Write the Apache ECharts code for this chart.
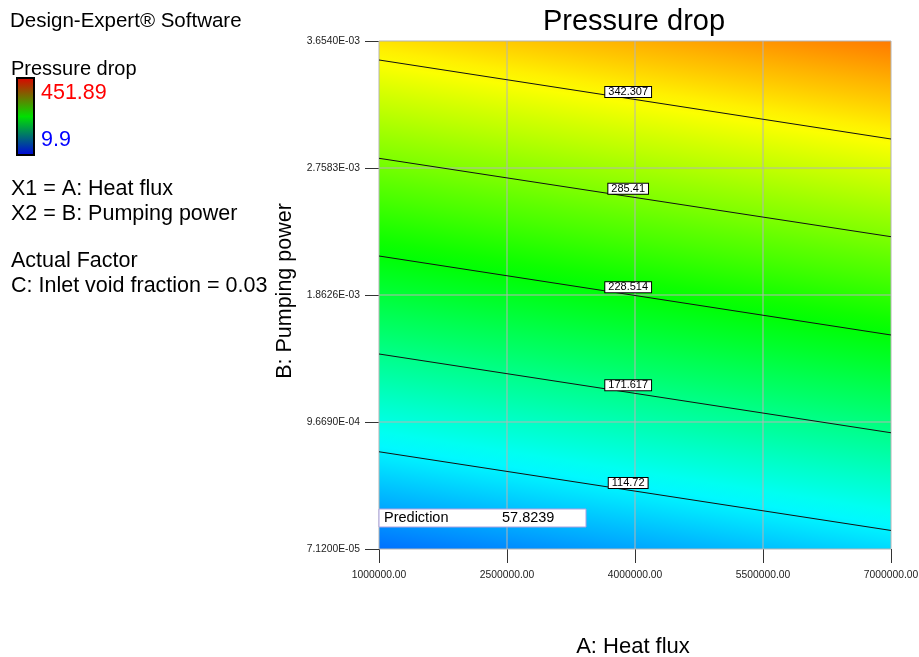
<!DOCTYPE html>
<html><head><meta charset="utf-8">
<script src="https://cdn.jsdelivr.net/npm/echarts@6/dist/echarts.min.js"></script>
<style>html,body{margin:0;padding:0;background:#fff}#c{width:919px;height:657px}</style>
</head><body><div id="c"></div>
<script>
// ---- data ----
const xTicks = [1000000, 2500000, 4000000, 5500000, 7000000];
const xTickLabels = ['1000000.00', '2500000.00', '4000000.00', '5500000.00', '7000000.00'];
const yTicks = [0.0000712, 0.0009669, 0.0018626, 0.0027583, 0.003654];
const yTickLabels = ['7.1200E-05', '9.6690E-04', '1.8626E-03', '2.7583E-03', '3.6540E-03'];
const contourLevels = [114.72, 171.617, 228.514, 285.41, 342.307];
const contourLabels = ['114.72', '171.617', '228.514', '285.41', '342.307'];
const contourLeftY = [0.000757, 0.0014465, 0.0021376, 0.0028267, 0.00352];   // at x = 1000000
const contourRightY = [0.000202, 0.000891, 0.0015805, 0.0022738, 0.0029628]; // at x = 7000000
const contourLabelX = [3920000, 3920000, 3920000, 3920000, 3920000];
const contourLabelY = [0.000537, 0.0012257, 0.0019169, 0.0026123, 0.0032943];
const legendMax = 451.89;
const legendMin = 9.9;
const predictionAt = [1000000, 0.0000712];
const predictionValue = '57.8239';

const FONT = 'Liberation Sans, Arial, sans-serif';
const xMin = xTicks[0], xMax = xTicks[xTicks.length - 1];
const yMin = yTicks[0], yMax = yTicks[yTicks.length - 1];

const scaleColors = [[0,0,255],[0,255,255],[0,255,0],[255,255,0],[255,0,0]];
function colorAt(v) {
  let t = (v - legendMin) / (legendMax - legendMin);
  t = Math.max(0, Math.min(1, t));
  const seg = t * (scaleColors.length - 1);
  const i = Math.min(Math.floor(seg), scaleColors.length - 2);
  const f = seg - i;
  const a = scaleColors[i], b = scaleColors[i + 1];
  const c = a.map((av, k) => Math.round(av + (b[k] - av) * f));
  return 'rgb(' + c.join(',') + ')';
}
function nearestLabel(v, ticks, labels) {
  let best = 0, bd = Infinity;
  ticks.forEach((t, i) => { const d = Math.abs(t - v); if (d < bd) { bd = d; best = i; } });
  return labels[best];
}

const chart = echarts.init(document.getElementById('c'), null, { renderer: 'canvas' });

const series = [];
// continuous colour surface, oriented along the contour lines
series.push({
  type: 'custom', z: 1, silent: true,
  data: [[xMin, yMin]],
  renderItem: function (params, api) {
    const n = contourLevels.length;
    const pL0 = api.coord([xMin, contourLeftY[0]]);
    const pR0 = api.coord([xMax, contourRightY[0]]);
    const pLn = api.coord([xMin, contourLeftY[n - 1]]);
    const pRn = api.coord([xMax, contourRightY[n - 1]]);
    let dx = (pR0[0] - pL0[0]) + (pRn[0] - pLn[0]);
    let dy = (pR0[1] - pL0[1]) + (pRn[1] - pLn[1]);
    const len = Math.hypot(dx, dy);
    dx /= len; dy /= len;
    let nx = -dy, ny = dx;
    if ((pLn[0] - pL0[0]) * nx + (pLn[1] - pL0[1]) * ny < 0) { nx = -nx; ny = -ny; }
    const dist = (pLn[0] - pL0[0]) * nx + (pLn[1] - pL0[1]) * ny;
    const vpp = (contourLevels[n - 1] - contourLevels[0]) / dist;
    const corners = [[xMin, yMin], [xMax, yMin], [xMax, yMax], [xMin, yMax]].map(c => api.coord(c));
    const proj = corners.map(c => (c[0] - pL0[0]) * nx + (c[1] - pL0[1]) * ny);
    const pmin = Math.min.apply(null, proj), pmax = Math.max.apply(null, proj);
    const S = [pL0[0] + nx * pmin, pL0[1] + ny * pmin];
    const E = [pL0[0] + nx * pmax, pL0[1] + ny * pmax];
    const vS = contourLevels[0] + pmin * vpp, vE = contourLevels[0] + pmax * vpp;
    const stops = [];
    const N = 40;
    for (let i = 0; i <= N; i++) {
      const t = i / N;
      stops.push({ offset: t, color: colorAt(vS + (vE - vS) * t) });
    }
    return {
      type: 'polygon',
      shape: { points: corners },
      style: { fill: { type: 'linear', x: S[0], y: S[1], x2: E[0], y2: E[1], global: true, colorStops: stops } }
    };
  }
});
// grid lines
series.push({
  type: 'custom', z: 2, silent: true,
  data: xTicks.map(v => [v, yMin]),
  renderItem: function (params, api) {
    const a = api.coord([api.value(0), yMin]), b = api.coord([api.value(0), yMax]);
    return { type: 'line', shape: { x1: a[0], y1: a[1], x2: b[0], y2: b[1] }, style: { stroke: '#b4b4b4', lineWidth: 1 } };
  }
});
series.push({
  type: 'custom', z: 2, silent: true,
  data: yTicks.map(v => [xMin, v]),
  renderItem: function (params, api) {
    const a = api.coord([xMin, api.value(1)]), b = api.coord([xMax, api.value(1)]);
    return { type: 'line', shape: { x1: a[0], y1: a[1], x2: b[0], y2: b[1] }, style: { stroke: '#b4b4b4', lineWidth: 1 } };
  }
});
// contour lines
contourLevels.forEach((lv, i) => {
  series.push({
    type: 'line', z: 3, silent: true, symbol: 'none', animation: false,
    data: [[xMin, contourLeftY[i]], [xMax, contourRightY[i]]],
    lineStyle: { color: '#111', width: 1 }
  });
});
// contour labels
series.push({
  type: 'custom', z: 4, silent: true,
  data: contourLevels.map((lv, i) => [contourLabelX[i], contourLabelY[i], i]),
  renderItem: function (params, api) {
    const p = api.coord([api.value(0), api.value(1)]);
    return {
      type: 'text', x: p[0], y: p[1],
      style: {
        text: contourLabels[api.value(2)], fontSize: 11, fontFamily: FONT, fill: '#000',
        align: 'center', verticalAlign: 'middle', lineHeight: 10,
        backgroundColor: '#fff', borderColor: '#000', borderWidth: 1, padding: [0, 3]
      }
    };
  }
});
// prediction flag
series.push({
  type: 'custom', z: 5, silent: true,
  data: [predictionAt],
  renderItem: function (params, api) {
    const p = api.coord([api.value(0), api.value(1)]);
    return {
      type: 'group',
      children: [
        { type: 'rect', shape: { x: p[0], y: p[1] - 40, width: 207, height: 18 },
          style: { fill: '#fff', stroke: '#aaa0e0', lineWidth: 1 } },
        { type: 'text', x: p[0] + 5, y: p[1] - 31,
          style: { text: 'Prediction', fontSize: 14.5, fontFamily: FONT, fill: '#000', verticalAlign: 'middle' } },
        { type: 'text', x: p[0] + 123, y: p[1] - 31,
          style: { text: predictionValue, fontSize: 14.5, fontFamily: FONT, fill: '#000', verticalAlign: 'middle' } }
      ]
    };
  }
});

function leftText(t, x, y, color, size) {
  return { type: 'text', x: x, y: y, style: { text: t, fontSize: size || 21.5, fontFamily: FONT, fill: color || '#000', verticalAlign: 'middle' } };
}

const option = {
  backgroundColor: '#fff',
  animation: false,
  title: {
    text: 'Pressure drop', left: 634, top: 7, padding: 0, textAlign: 'center',
    textStyle: { fontSize: 29, fontWeight: 'normal', color: '#000', fontFamily: FONT }
  },
  grid: { left: 379, top: 41, width: 512, height: 508, show: false, containLabel: false, outerBoundsMode: 'none' },
  xAxis: {
    type: 'value', min: xMin, max: xMax,
    name: 'A: Heat flux', nameLocation: 'middle', nameGap: 87,
    nameTextStyle: { fontSize: 22, color: '#000', fontFamily: FONT, padding: [0, 4, 0, 0] },
    axisLine: { show: false },
    axisTick: { show: true, length: 14, customValues: xTicks, lineStyle: { color: '#333' } },
    axisLabel: { customValues: xTicks, margin: 21, fontSize: 10.3, color: '#222', fontFamily: FONT,
      formatter: v => nearestLabel(v, xTicks, xTickLabels) },
    splitLine: { show: false }
  },
  yAxis: {
    type: 'value', min: yMin, max: yMax,
    name: 'B: Pumping power', nameLocation: 'middle', nameGap: 82,
    nameTextStyle: { fontSize: 21.5, color: '#000', fontFamily: FONT, padding: [0, 0, 0, 8] },
    axisLine: { show: false },
    axisTick: { show: true, length: 14, customValues: yTicks, lineStyle: { color: '#333' } },
    axisLabel: { customValues: yTicks, margin: 19, fontSize: 10.3, color: '#222', fontFamily: FONT,
      formatter: v => nearestLabel(v, yTicks, yTickLabels) },
    splitLine: { show: false }
  },
  graphic: [
    leftText('Design-Expert® Software', 10, 21, '#000', 20.5),
    leftText('Pressure drop', 11, 69, '#000', 20),
    { type: 'rect', shape: { x: 17, y: 78, width: 17, height: 77 },
      style: { stroke: '#000', lineWidth: 2,
        fill: { type: 'linear', x: 0, y: 0, x2: 0, y2: 1,
          colorStops: [{ offset: 0, color: '#e00000' }, { offset: 0.5, color: '#00e000' }, { offset: 1, color: '#0000e0' }] } } },
    leftText(String(legendMax), 41, 93, '#ff0000'),
    leftText(String(legendMin), 41, 140, '#0000ff'),
    leftText('X1 = A: Heat flux', 11, 189),
    leftText('X2 = B: Pumping power', 11, 214),
    leftText('Actual Factor', 11, 261),
    leftText('C: Inlet void fraction = 0.03', 11, 286)
  ],
  series: series
};
chart.setOption(option);
</script>
</body></html>
